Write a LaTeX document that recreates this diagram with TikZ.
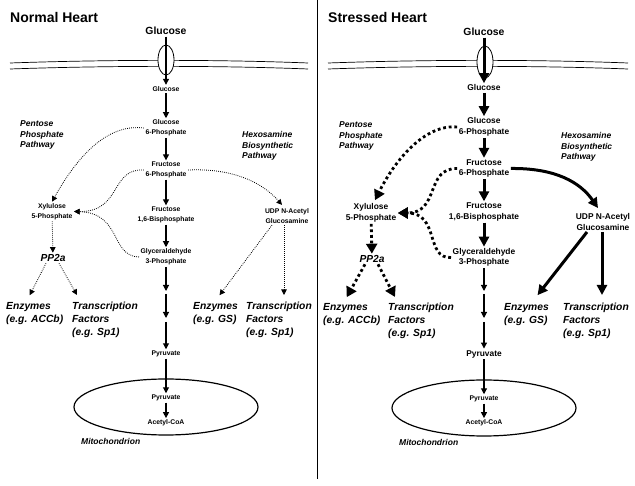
\documentclass[tikz,border=0pt]{standalone}
\usepackage{fontspec}
\setmainfont{Liberation Sans}
\usetikzlibrary{arrows.meta}

\begin{document}
\begin{tikzpicture}[x=1pt,y=-1pt,
	every node/.style={font=\bfseries, align=center, inner sep=1.5pt},
	sm/.style={font=\bfseries\fontsize{6.8}{9.8}\selectfont},
	md/.style={font=\bfseries\fontsize{8.4}{10.4}\selectfont},
	top/.style={font=\bfseries\fontsize{10.4}{12}\selectfont},
	pptwo/.style={font=\bfseries\itshape\fontsize{10.2}{12}\selectfont},
	pway/.style={font=\bfseries\itshape\fontsize{8.5}{10.8}\selectfont, align=left, anchor=west, inner sep=0pt},
	big/.style={font=\bfseries\itshape\fontsize{10.3}{13}\selectfont, align=left, anchor=west, inner sep=0pt},
	heading/.style={font=\bfseries\fontsize{14}{16}\selectfont, anchor=west, inner sep=0pt},
	arr/.style={-{Triangle[length=6pt,width=6pt]}, line width=1.1pt},
	thk/.style={-{Triangle[length=10pt,width=10pt]}, line width=3pt},
	dotline/.style={-{Triangle[length=5.5pt,width=5.5pt]}, line width=0.8pt, dash pattern=on 0.8pt off 1.2pt},
	fatdot/.style={-{Triangle[length=10pt,width=11pt]}, line width=2.8pt, dash pattern=on 2.8pt off 2.8pt}]
	\useasboundingbox (0,0) rectangle (635,486);
	\draw[line width=1pt] (317,0) -- (317,479);

	\draw[line width=0.7pt] (10,63) .. controls (110,59.5) and (220,59.5) .. (308,63);
	\draw[line width=0.7pt] (10,69) .. controls (110,65.5) and (220,65.5) .. (308,69);
	\draw[line width=0.8pt, fill=white] (166,60) ellipse [x radius=8pt, y radius=15pt];
	\draw[line width=1.2pt] (166,407) ellipse [x radius=92pt, y radius=28pt];

	\node[heading] (titleN) at (10,17) {Normal Heart};
	\node[top] (glucN) at (166,31) {Glucose};
	\node[sm] (glcN) at (166,89) {Glucose};
	\node[sm] (g6pN) at (166,128) {Glucose\\6-Phosphate};
	\node[sm] (f6pN) at (166,170) {Fructose\\6-Phosphate};
	\node[sm] (fbpN) at (166,215) {Fructose\\1,6-Bisphosphate};
	\node[sm] (gapN) at (166,257) {Glyceraldehyde\\3-Phosphate};
	\node[sm] (pyrN) at (166,354) {Pyruvate};
	\node[sm] (pyrmN) at (166,398) {Pyruvate};
	\node[sm] (acoaN) at (166,423) {Acetyl-CoA};
	\node[sm] (xylN) at (52,211.5) {Xylulose\\5-Phosphate};
	\node[sm] (udpN) at (287,216) {UDP N-Acetyl\\Glucosamine};
	\node[pptwo] (pp2aN) at (53,258) {PP2a};
	\node[pway] (pppN) at (20,135) {Pentose\\Phosphate\\Pathway};
	\node[pway] (hbpN) at (242,146) {Hexosamine\\Biosynthetic\\Pathway};
	\node[big] (enzAN) at (6,313.5) {Enzymes\\(e.g. ACCb)};
	\node[big] (tfAN) at (72,320) {Transcription\\Factors\\(e.g. Sp1)};
	\node[big] (enzGN) at (193,313.5) {Enzymes\\(e.g. GS)};
	\node[big] (tfGN) at (246,320) {Transcription\\Factors\\(e.g. Sp1)};
	\node[pway] (mitoN) at (81,441) {Mitochondrion};
	\coordinate (k1N) at (166,291);
	\coordinate (k2N) at (166,294);
	\coordinate (k3N) at (166,318);
	\coordinate (k4N) at (166,322);

	\draw[arr] (glucN) -- (glcN);
	\draw[arr] (glcN) -- (g6pN);
	\draw[arr] (g6pN) -- (f6pN);
	\draw[arr] (f6pN) -- (fbpN);
	\draw[arr] (fbpN) -- (gapN);
	\draw[arr] (gapN) -- (k1N);
	\draw[arr] (k2N) -- (k3N);
	\draw[arr] (k4N) -- (pyrN);
	\draw[arr] (pyrN) -- (pyrmN);
	\draw[arr] (pyrmN) -- (acoaN);
	\draw[dotline] (g6pN.west) .. controls (112,124) and (82,148) .. (xylN.north);
	\draw[dotline] (f6pN.west) .. controls (110,168) and (122,212) .. (xylN.east);
	\draw[dotline] (gapN.west) .. controls (110,256) and (122,213) .. (xylN.east);
	\draw[dotline] (f6pN.east) .. controls (232,168) and (262,182) .. ([xshift=-5pt,yshift=2pt]udpN.north);
	\draw[dotline] (xylN) -- (pp2aN);
	\draw[dotline] ([xshift=-7pt]pp2aN.south) -- ([xshift=-5pt,yshift=7pt]enzAN.north);
	\draw[dotline] ([xshift=6pt]pp2aN.south) -- ([xshift=5pt,yshift=7pt]tfAN.north west);
	\draw[dotline] ([xshift=-15pt]udpN.south) -- ([xshift=4pt,yshift=7pt]enzGN.north);
	\draw[dotline] ([xshift=-3pt]udpN.south) -- ([xshift=38pt,yshift=7pt]tfGN.north west);

	\draw[line width=0.7pt] (328,63) .. controls (428,59.5) and (538,59.5) .. (628,63);
	\draw[line width=0.7pt] (328,69) .. controls (428,65.5) and (538,65.5) .. (628,69);
	\draw[line width=0.8pt, fill=white] (485,62) ellipse [x radius=8pt, y radius=16pt];
	\draw[line width=1.2pt] (484,408) ellipse [x radius=92pt, y radius=28pt];

	\node[heading] (titleS) at (328,17) {Stressed Heart};
	\node[top] (glucS) at (484,32) {Glucose};
	\node[md] (glcS) at (484,88) {Glucose};
	\node[md] (g6pS) at (484,127) {Glucose\\6-Phosphate};
	\node[md] (f6pS) at (484,168.5) {Fructose\\6-Phosphate};
	\node[md] (fbpS) at (484,212) {Fructose\\1,6-Bisphosphate};
	\node[md] (gapS) at (484,257.5) {Glyceraldehyde\\3-Phosphate};
	\node[md] (pyrS) at (484,354) {Pyruvate};
	\node[sm] (pyrmS) at (484,399) {Pyruvate};
	\node[sm] (acoaS) at (484,423) {Acetyl-CoA};
	\node[md] (xylS) at (371,213) {Xylulose\\5-Phosphate};
	\node[md] (udpS) at (603,222) {UDP N-Acetyl\\Glucosamine};
	\node[pptwo] (pp2aS) at (372,259) {PP2a};
	\node[pway] (pppS) at (339,136) {Pentose\\Phosphate\\Pathway};
	\node[pway] (hbpS) at (561,147) {Hexosamine\\Biosynthetic\\Pathway};
	\node[big] (enzAS) at (323,314.5) {Enzymes\\(e.g. ACCb)};
	\node[big] (tfAS) at (388,321) {Transcription\\Factors\\(e.g. Sp1)};
	\node[big] (enzGS) at (504,314.5) {Enzymes\\(e.g. GS)};
	\node[big] (tfGS) at (563,321) {Transcription\\Factors\\(e.g. Sp1)};
	\node[pway] (mitoS) at (399,442) {Mitochondrion};
	\coordinate (k1S) at (484,291);
	\coordinate (k2S) at (484,294);
	\coordinate (k3S) at (484,318);
	\coordinate (k4S) at (484,322);

	\draw[thk] (glucS) -- (glcS);
	\draw[thk] (glcS) -- (g6pS);
	\draw[thk] (g6pS) -- (f6pS);
	\draw[thk] (f6pS) -- (fbpS);
	\draw[thk] (fbpS) -- (gapS);
	\draw[arr] (gapS) -- (k1S);
	\draw[arr] (k2S) -- (k3S);
	\draw[arr] (k4S) -- (pyrS);
	\draw[arr] (pyrS) -- (pyrmS);
	\draw[arr] (pyrmS) -- (acoaS);
	\draw[fatdot] (g6pS.west) .. controls (425,124) and (395,160) .. ([xshift=4pt,yshift=2pt]xylS.north);
	\draw[fatdot] (f6pS.west) .. controls (425,168) and (440,213) .. (xylS.east);
	\draw[fatdot] (gapS.west) .. controls (425,259) and (440,213) .. (xylS.east);
	\draw[fatdot] (xylS) -- (pp2aS);
	\draw[fatdot] ([xshift=-7pt]pp2aS.south) -- ([xshift=-5pt,yshift=6pt]enzAS.north);
	\draw[fatdot] ([xshift=6pt]pp2aS.south) -- ([xshift=7pt,yshift=6pt]tfAS.north west);
	\draw[thk] (f6pS.east) .. controls (555,168) and (580,182) .. ([xshift=-5pt,yshift=4pt]udpS.north);
	\draw[thk] ([xshift=-16pt]udpS.south) -- ([xshift=11pt,yshift=8pt]enzGS.north);
	\draw[thk] ([xshift=-1pt]udpS.south) -- ([xshift=39pt,yshift=8pt]tfGS.north west);
\end{tikzpicture}
\end{document}
